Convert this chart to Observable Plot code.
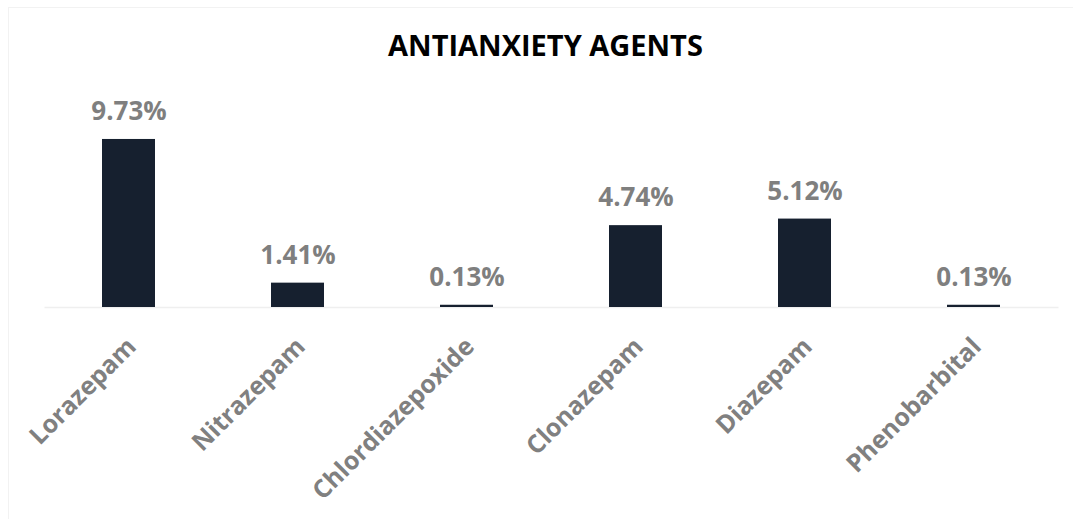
<!DOCTYPE html>
<html>
<head>
<meta charset="utf-8">
<script src="https://cdn.jsdelivr.net/npm/d3@7"></script>
<script src="https://cdn.jsdelivr.net/npm/@observablehq/plot@0.6"></script>
<style>
  html, body { margin: 0; padding: 0; background: #fff; }
  #wrap { position: relative; width: 1073px; height: 519px; overflow: hidden; font-family: "Open Sans", sans-serif; }
  #frame { position: absolute; left: 8px; top: 7px; width: 2000px; height: 2000px; border-left: 1px solid #f2f2f2; border-top: 1px solid #f2f2f2; }
  #title { position: absolute; left: 0; top: 30px; width: 1091px; text-align: center; font-weight: 700; font-size: 29px; line-height: 29px; color: #000; }
  #chart { position: absolute; left: 0; top: 80px; }
</style>
</head>
<body>
<div id="wrap">
  <div id="frame"></div>
  <div id="title">ANTIANXIETY AGENTS</div>
  <div id="chart"></div>
</div>
<script>
const drugs = ["Lorazepam", "Nitrazepam", "Chlordiazepoxide", "Clonazepam", "Diazepam", "Phenobarbital"];
const shares = [9.73, 1.41, 0.13, 4.74, 5.12, 0.13];

const data = drugs.map((d, i) => ({drug: d, value: shares[i]}));

const chart = Plot.plot({
  width: 1073,
  height: 439,
  marginLeft: 44.5,
  marginRight: 14.5,
  marginTop: 54.3,
  marginBottom: 212,
  style: {fontFamily: "'Open Sans', sans-serif", background: "transparent"},
  x: {domain: drugs, paddingInner: 0.686, paddingOuter: 0.343, axis: null},
  y: {domain: [0, 10], axis: null},
  marks: [
    Plot.ruleY([0], {stroke: "#efefef", strokeWidth: 1.5}),
    Plot.barY(data, {x: "drug", y: "value", fill: "#16202f"}),
    Plot.text(data, {
      x: "drug", y: "value",
      text: d => d.value.toFixed(2) + "%",
      lineAnchor: "bottom", dy: -19.5,
      fill: "#7f7f7f", fontSize: 26, fontWeight: 700
    }),
    Plot.text(data, {
      x: "drug", y: () => 0,
      text: "drug",
      rotate: -45, textAnchor: "end", lineAnchor: "middle",
      dx: 3, dy: 35,
      fill: "#808080", fontSize: 25, fontWeight: 700
    })
  ]
});
document.getElementById("chart").appendChild(chart);
</script>
</body>
</html>
